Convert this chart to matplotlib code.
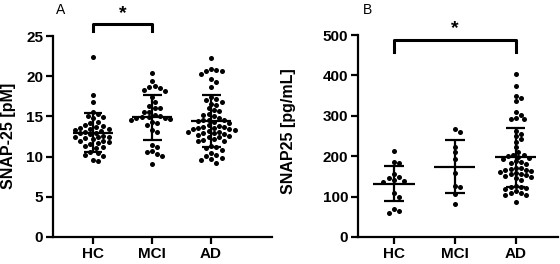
import numpy as np
import matplotlib.pyplot as plt

plt.rcParams['font.family'] = ['Liberation Sans', 'DejaVu Sans']
plt.rcParams['font.weight'] = 'bold'

groups = ['HC', 'MCI', 'AD']

# panel A: SNAP-25 [pM]
a_hc = [22.4, 17.7, 16.8, 15.5, 15.3, 14.9, 15.0, 14.8, 14.3, 14.2, 13.8, 13.9, 13.7, 13.5,
        13.6, 13.4, 13.2, 13.0, 13.1, 12.9, 13.3, 12.8, 12.5, 12.4, 12.6, 12.3, 12.5, 12.2,
        12.0, 11.9, 11.8, 11.6, 11.7, 11.2, 11.3, 11.1, 10.6, 10.5, 10.2, 10.1, 9.5, 9.6]
a_mci = [20.4, 19.4, 18.8, 18.7, 18.5, 18.3, 18.2, 17.4, 16.8, 16.3, 16.1, 16.0, 15.6, 15.5,
         15.2, 15.0, 14.9, 14.8, 14.7, 14.6, 14.8, 14.9, 14.3, 14.2, 13.9, 13.3, 13.1, 11.5,
         11.2, 10.7, 10.6, 10.3, 10.1, 9.1]
a_ad = [22.3, 20.9, 20.8, 20.6, 20.7, 20.3, 19.6, 19.3, 18.7, 17.4, 17.2, 17.0, 16.8, 16.6,
        16.4, 16.0, 15.8, 15.7, 15.3, 15.2, 15.0, 14.8, 14.6, 14.5, 14.4, 14.3, 14.5, 14.2,
        13.9, 13.8, 13.6, 13.7, 13.5, 13.4, 13.7, 13.6, 13.2, 13.3, 13.1, 13.0, 12.9, 13.1,
        12.7, 12.8, 12.6, 12.5, 12.4, 12.1, 12.0, 12.2, 11.9, 11.3, 11.2, 11.1, 10.8, 10.4,
        10.2, 10.1, 9.8, 9.7, 9.6, 9.2]
a_mean = [12.97, 14.9, 14.45]
a_sd = [2.43, 2.8, 3.2]

# panel B: SNAP25 [pg/mL]
b_hc = [213, 186, 182, 155, 148, 147, 141, 139, 137, 108, 98, 69, 64, 59]
b_mci = [267, 259, 224, 211, 193, 159, 127, 123, 106, 82]
b_ad = [403, 374, 350, 345, 337, 309, 302, 295, 293, 291, 263, 256, 249, 243, 236, 223, 211,
        204, 202, 200, 198, 196, 194, 187, 185, 183, 181, 172, 170, 168, 167, 165, 163, 161,
        159, 157, 155, 153, 150, 148, 145, 142, 127, 125, 123, 121, 119, 113, 110, 108, 105,
        103, 86]
b_mean = [132, 174, 197]
b_sd = [44, 65, 74]


def swarm(ax, vals, x0, d=5.2):
    # simple beeswarm in pixel space
    vals = np.asarray(vals, float)
    pts = ax.transData.transform(np.column_stack([np.full(len(vals), x0), vals]))
    cx = pts[0, 0]
    step = d / 2
    offs = [0.0]
    for k in range(1, 40):
        offs += [k * step, -k * step]
    placed = []
    xs = np.zeros(len(vals))
    for i in np.argsort(-vals):
        py = pts[i, 1]
        for o in offs:
            if all((cx + o - px) ** 2 + (py - qy) ** 2 >= (d * 0.97) ** 2 for px, qy in placed):
                placed.append((cx + o, py))
                xs[i] = ax.transData.inverted().transform((cx + o, py))[0]
                break
    return xs


def panel(ax, data, means, sds, ylim, yticks, xlim):
    ax.set_xlim(xlim)
    ax.set_ylim(ylim)
    ax.set_yticks(yticks)
    ax.set_xticks([0, 1, 2])
    ax.set_xticklabels(groups)
    for s in ['top', 'right']:
        ax.spines[s].set_visible(False)
    for s in ['left', 'bottom']:
        ax.spines[s].set_linewidth(1.6)
    ax.tick_params(width=1.6, length=5, labelsize=11, pad=2)
    for i, vals in enumerate(data):
        xs = swarm(ax, vals, i)
        ax.scatter(xs, vals, s=13, color='black', zorder=3, linewidths=0)
        m, s = means[i], sds[i]
        ax.hlines(m, i - 0.34, i + 0.34, color='black', lw=1.6, zorder=4)
        ax.vlines(i, m - s, m + s, color='black', lw=1.6, zorder=4)
        ax.hlines([m - s, m + s], i - 0.16, i + 0.16, color='black', lw=1.6, zorder=4)


fig = plt.figure(figsize=(5.6, 2.64), dpi=100)
axA = fig.add_axes([0.0946, 0.1023, 0.391, 0.761])
axB = fig.add_axes([0.639, 0.1023, 0.357, 0.765])

panel(axA, [a_hc, a_mci, a_ad], a_mean, a_sd, (0, 25), [0, 5, 10, 15, 20, 25], (-0.678, 3.03))
panel(axB, [b_hc, b_mci, b_ad], b_mean, b_sd, (0, 500), [0, 100, 200, 300, 400, 500], (-0.59, 2.69))

# significance brackets
axA.plot([0, 0, 1, 1], [25.6, 26.5, 26.5, 25.6], color='black', lw=2.2, clip_on=False)
axA.text(0.5, 26.8, '*', ha='center', va='bottom', fontsize=14)
axB.plot([0, 0, 2, 2], [458, 488, 488, 458], color='black', lw=2.2, clip_on=False)
axB.text(1, 494, '*', ha='center', va='bottom', fontsize=14)

fig.text(9 / 560, 0.485, 'SNAP-25 [pM]', rotation=90, ha='center', va='center', fontsize=11.5)
fig.text(288 / 560, 0.504, 'SNAP25 [pg/mL]', rotation=90, ha='center', va='center', fontsize=11.5)
fig.text(61 / 560, 1 - 10.5 / 264, 'A', ha='center', va='center', fontsize=10, fontweight='normal')
fig.text(367 / 560, 1 - 10.5 / 264, 'B', ha='center', va='center', fontsize=10, fontweight='normal')

fig.savefig('out.png', dpi=100)
